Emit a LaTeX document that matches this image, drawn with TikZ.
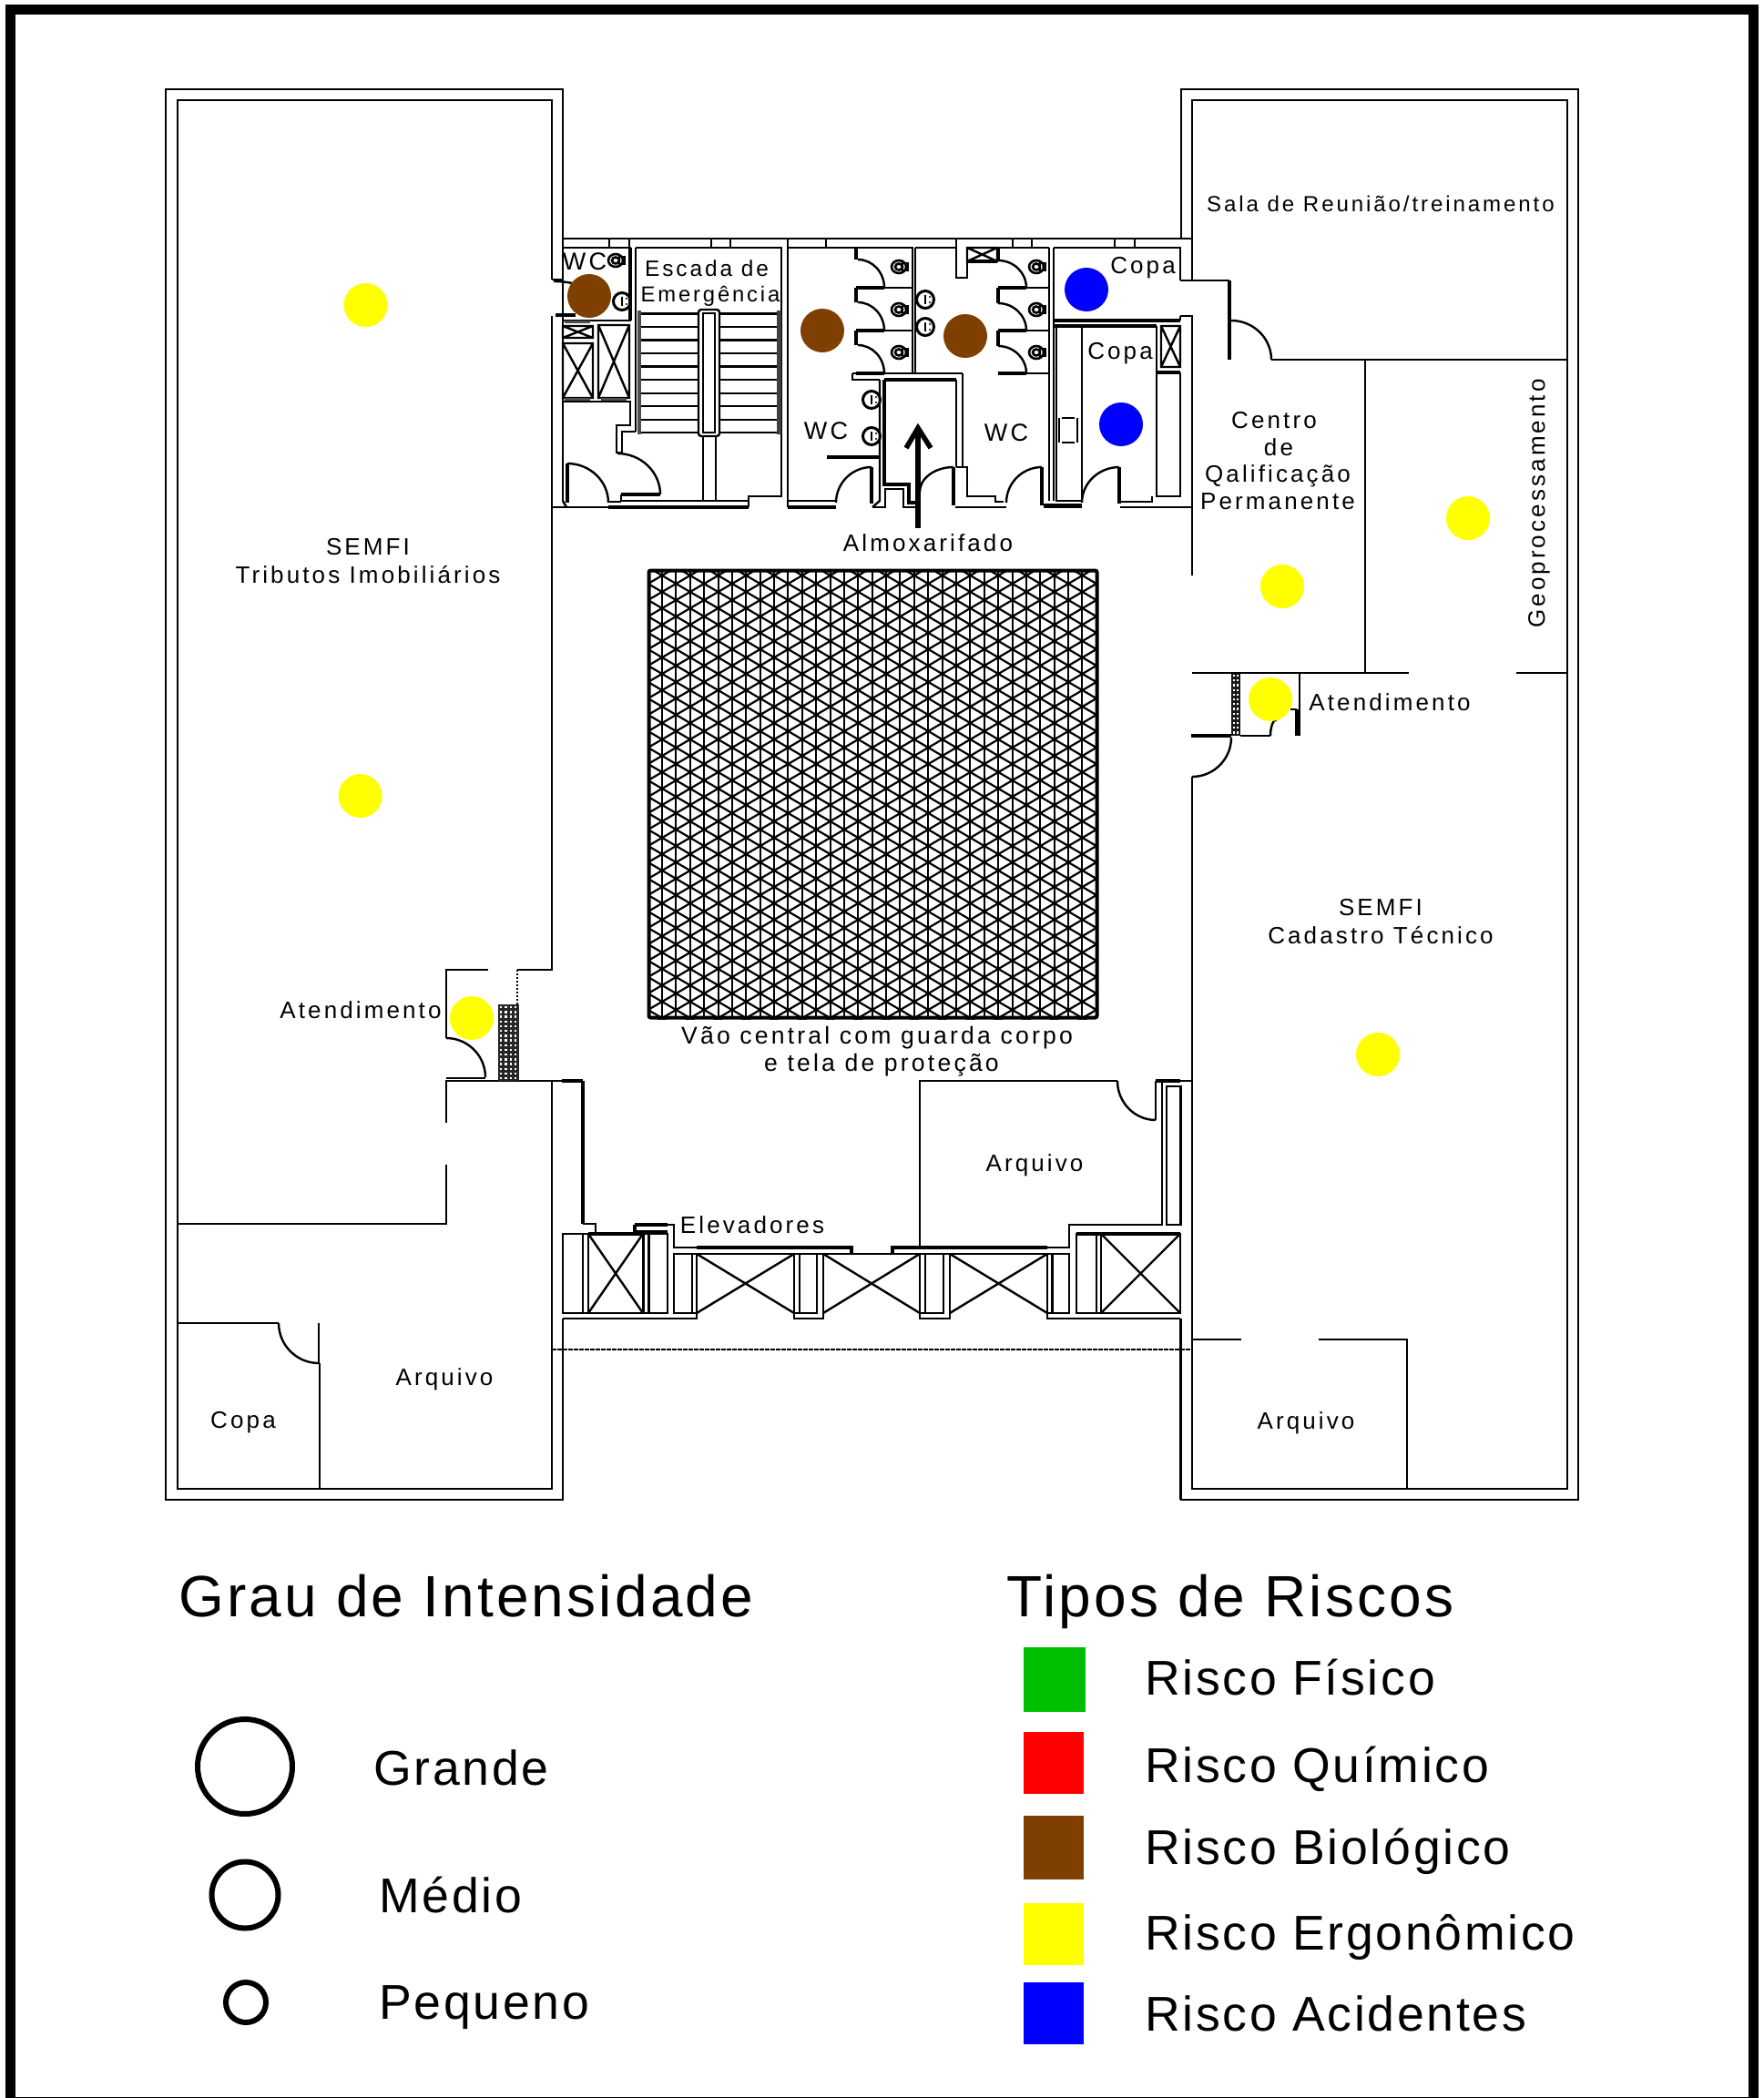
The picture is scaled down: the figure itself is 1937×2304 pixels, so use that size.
\documentclass[tikz,border=0pt]{standalone}
\usepackage{fontspec}
\setmainfont{Liberation Sans}[LetterSpace=12]
\newfontfamily\legendfont{Liberation Sans}[LetterSpace=5]
\newcommand{\fsz}[1]{\fontsize{#1}{#1}\selectfont}
\tikzset{
  wall/.style={draw=black,line width=2.4pt,line join=miter,fill=none},
  thick wall/.style={draw=black,line width=3.5pt},
  room label/.style={font=\fsz{26},inner sep=0pt,text=black,align=center},
  legend head/.style={font=\legendfont\fsz{64},inner sep=0pt,anchor=base west},
  legend text/.style={font=\legendfont\fsz{53.6},inner sep=0pt,anchor=base west},
  marker/.style={circle,minimum size=48pt,inner sep=0pt,draw=none},
  ring/.style={draw=black,line width=6pt,fill=none}
}
\definecolor{rbrown}{RGB}{127,63,0}
\definecolor{rgreen}{RGB}{0,191,0}
\definecolor{ryellow}{RGB}{255,255,0}
\definecolor{rblue}{RGB}{0,0,255}
\definecolor{rred}{RGB}{255,0,0}
\newcommand{\qarc}[4]{\draw[wall] (#1,#2) .. controls ({#1+0.55*(#3-#1)},#2) and (#3,{#4-0.55*(#4-#2)}) .. (#3,#4);}
\newcommand{\xbox}[4]{\draw[wall] (#1,#2) rectangle (#3,#4) (#1,#2) -- (#3,#4) (#1,#4) -- (#3,#2);}
\newcommand{\toilet}[2]{\draw[line width=2.6pt] (#1,#2) ellipse (8pt and 7pt) (#1,#2) ellipse (4pt and 3.5pt);\draw[line width=2.4pt] (#1+4,#2-4) rectangle (#1+10,#2+4);}
\newcommand{\sink}[2]{\draw[line width=3pt] (#1,#2) circle (9.5pt);\draw[line width=1.5pt] (#1,#2-5) -- (#1,#2+5);\fill (#1+5,#2-3) circle (1.2pt) (#1+5,#2+3) circle (1.2pt);}
\begin{document}
\begin{tikzpicture}[x=1pt,y=-1pt]
\useasboundingbox (0,0) rectangle (1937,2304);
\fill[white] (0,0) rectangle (1937,2304);
% page frame
\draw[black,line width=11pt] (11.5,10.5) rectangle (1925.5,2308);
% ---------- left building
\draw[wall] (618,307) -- (618,98) -- (182,98) -- (182,1647) -- (618,1647) -- (618,1448);
\draw[wall] (606,307) -- (606,110) -- (195,110) -- (195,1635) -- (606,1635) -- (606,1187);
\draw[wall] (606,307) -- (618,307);
\draw[wall] (606,347) -- (606,1065) -- (568,1065);
\draw[wall] (536,1065) -- (490,1065) -- (490,1140);
\qarc{490}{1140}{533}{1183}
\draw[wall] (490,1184) -- (533,1184);
\draw[wall] (490,1233) -- (490,1187) -- (617,1187);
\draw[thick wall] (617,1187) -- (640,1187);
\draw[wall] (490,1279) -- (490,1344) -- (195,1344);
\draw[wall] (195,1453) -- (306,1453);
\qarc{350}{1497}{306}{1453}
\draw[wall] (350,1453) -- (350,1497);
\draw[wall] (351,1497) -- (351,1635);
% hatch columns
\fill[black!85] (547,1103) rectangle (570,1187);
\foreach \i in {0,...,3}\foreach \j in {0,...,15}{\fill[white] (549+\i*5.3,1105+\j*5.2) rectangle ++(2.4,2.4);}
\draw[line width=2pt,dotted] (568,1065) -- (568,1103);
\fill[black!90] (1352,739) rectangle (1362,808);
\foreach \i in {0,1}\foreach \j in {0,...,12}{\fill[white] (1353.6+\i*4.3,741+\j*5.2) rectangle ++(2,2.2);}
% ---------- right building
\draw[wall] (1297,262) -- (1297,98) -- (1733,98) -- (1733,1647) -- (1297,1647) -- (1297,1448);
\draw[wall] (1309,308) -- (1309,110) -- (1721,110) -- (1721,1635) -- (1309,1635) -- (1309,853);
\qarc{1309}{853}{1352}{810}
\draw[thick wall] (1308,808) -- (1352,808);
\draw[wall] (1296,308) -- (1350,308);
\draw[thick wall] (1350,308) -- (1350,395);
\qarc{1352}{352}{1396}{395}
\draw[wall] (1396,395) -- (1721,395);
\draw[wall] (1296,347) -- (1309,347) -- (1309,632);
\draw[wall] (1499,395) -- (1499,739);
\draw[wall] (1309,739) -- (1547,739);
\draw[wall] (1665,739) -- (1721,739);
\draw[wall] (1427,739) -- (1427,808);
\draw[wall] (1362,808) -- (1395,808);
\qarc{1402}{790}{1395}{808}
\draw[wall] (1417,779) -- (1424,779);
\draw[thick wall] (1424,779) -- (1424,808);
\draw[wall] (1309,1471) -- (1363,1471);
\draw[wall] (1448,1471) -- (1545,1471) -- (1545,1635);
% ---------- service core top
\draw[wall] (618,262) -- (1309,262);
\foreach \x in {669,691,781,802,865,907,1050,1112,1133,1224,1246}{\draw[wall] (\x,262) -- (\x,272);}
\draw[wall] (618,272) rectangle (692,352);
\draw[thick wall] (692,272) -- (692,352);
\draw[wall] (618,352) -- (618,550);
\draw[thick wall] (610,346) -- (632,346);
\qarc{608}{309}{640}{318}
\toilet{676}{286}
\sink{683}{331}
\xbox{618}{358}{651}{371}
\xbox{618}{377}{651}{437}
\xbox{657}{357}{691}{437}
\draw[line width=3pt,black!70] (620,353) -- (648,353);
\draw[line width=3pt,black!70] (620,438) -- (648,438) (660,438) -- (688,438);
\draw[wall] (618,441) -- (692,441) -- (692,467) -- (677,467) -- (677,497) -- (683,497) -- (683,474) -- (698,474);
\draw[wall] (698,272) -- (858,272) -- (858,545) -- (822,545) -- (822,557);
\draw[wall] (698,272) -- (698,474);
\qarc{678}{498}{725}{543}
\draw[thick wall] (682,543) -- (725,543);
\draw[wall] (682,543) -- (682,550) -- (822,550);
\draw[thick wall] (668,557) -- (822,557);
\draw[wall] (668,551) -- (682,551);
\draw[thick wall] (623,509) -- (623,552);
\qarc{623}{509}{668}{552}
\draw[wall] (618,550) -- (622,557);
\draw[wall] (606,557) -- (822,557);
% stairs
\foreach \y in {344.3,359,373.3,387.7,402.3,416.7,431.7,446,460.7,475}{\draw[wall] (702,\y) -- (858,\y);}
\fill[black!70] (700,341) rectangle (704,477);
\fill[black!75] (853,341) rectangle (858,477);
\draw[wall,fill=white,rounded corners=3pt] (767,340) rectangle (790,479);
\draw[wall,fill=white] (772,344) rectangle (785,475);
\draw[wall] (771.7,479) -- (771.7,550) (786,479) -- (786,550);
% WC left (stalls)
\draw[wall] (865,272) -- (865,557);
\draw[wall] (865,272) -- (1002,272) -- (1002,410) (1005,272) -- (1050,272);
\draw[wall] (1005,272) -- (1005,410);
\draw[wall] (865,550) -- (918,550);
\draw[thick wall] (865,557) -- (918,557);
\foreach \a/\b/\c in {272/285/316,316/332/363,363/379/410}{
  \draw[thick wall] (940,\a) -- (940,\b);
  \qarc{942}{\b}{971}{\c}
  \draw[thick wall] (940,\c) -- (971,\c);
  \draw[wall] (971,\c) -- (1002,\c);
}
\toilet{987}{293}\toilet{987}{340}\toilet{987}{387}
\draw[wall] (936,410) -- (1057,410) (936,410) -- (936,417) -- (966,417);
\draw[wall] (966,417) -- (966,550) -- (958,557);
\draw[thick wall] (971,417) -- (1050,417);
\draw[thick wall] (971,417) -- (971,532) -- (998,532) -- (998,552) -- (1008,552);
\draw[wall] (958,557) -- (972,557) -- (972,537) -- (992,537) -- (992,557) -- (1008,557);
\sink{957}{439}\sink{957}{479}
\draw[thick wall] (908,502) -- (965,502);
\draw[thick wall] (957,513) -- (957,553);
\qarc{957}{513}{918}{552}
% WC right
\draw[wall] (1050,272) -- (1050,305) -- (1062,305) -- (1062,272) -- (1152,272);
\xbox{1062}{272}{1095}{287}
\draw[thick wall] (1062,287) -- (1095,287);
\draw[thick wall] (1096,272) -- (1096,286);
\foreach \b/\c in {286/316,333/363,380/410}{
  \qarc{1096}{\b}{1127}{\c}
  \draw[thick wall] (1096,\c) -- (1127,\c);
  \draw[wall] (1127,\c) -- (1152,\c);
}
\draw[thick wall] (1096,316) -- (1096,333) (1096,363) -- (1096,380);
\toilet{1138}{293}\toilet{1138}{340}\toilet{1138}{387}
\sink{1016}{329}\sink{1016}{359}
\draw[wall] (1050,417) -- (1050,513) (1057,410) -- (1057,514);
\draw[thick wall] (1047,513) -- (1047,555);
\qarc{1047}{513}{1010}{540}
\draw[wall] (1050,513) -- (1062,513) -- (1062,545) -- (1093,545) -- (1093,551) -- (1102,551);
\draw[wall] (1049,557) -- (1105,557);
\draw[thick wall] (1144,513) -- (1144,555);
\qarc{1144}{513}{1105}{552}
\draw[wall] (1152,272) -- (1152,550);
\draw[wall] (1157,272) -- (1157,550);
\draw[wall] (1146,557) -- (1188,557);
\draw[thick wall] (1146,555) -- (1188,555);
% Copas
\draw[wall] (1157,272) -- (1296,272) -- (1296,308);
\draw[thick wall] (1157,352) -- (1296,352);
\draw[wall] (1296,347) -- (1296,352);
\draw[thick wall] (1157,358) -- (1270,358);
\draw[wall] (1160,358) -- (1160,550) -- (1188,550);
\draw[wall] (1188,358) -- (1188,552);
\draw[wall] (1270,358) -- (1270,545) -- (1296,545) -- (1296,409);
\xbox{1275}{358}{1296}{403}
\draw[thick wall] (1270,409) -- (1296,409);
\draw[wall] (1163,459) -- (1163,486) (1183,459) -- (1183,486) (1166,459) -- (1180,459) (1166,486) -- (1180,486);
\draw[thick wall] (1229,513) -- (1229,553);
\qarc{1229}{513}{1188}{552}
\draw[wall] (1230,551) -- (1265,551) -- (1265,545);
\draw[wall] (1230,557) -- (1309,557);
\draw[wall] (1309,262) -- (1309,308);
% arrow
\draw[black,line width=5.5pt] (1008,580) -- (1008,470);
\draw[black,line width=5.5pt,line join=miter] (995,492) -- (1008,470) -- (1022,492);
% central void
\begin{scope}
\clip (711,625) rectangle (1206,1119);
\foreach \k in {-20,...,46}{
  \draw[line width=2.2pt] (711,{632+\k*18-16*0.585}) -- (1206,{632+\k*18+479*0.585});
  \draw[line width=2.2pt] (711,{632+\k*18+16*0.585}) -- (1206,{632+\k*18-479*0.585});
}
\foreach \i in {0,...,31}{\draw[line width=2pt] ({727+\i*15.38},625) -- ({727+\i*15.38},1119);}
\end{scope}
\draw[line width=4pt,rounded corners=2pt] (712.5,626.5) rectangle (1204.5,1117.5);
% ---------- elevators
\draw[line width=3.4pt] (640,1187) -- (640,1344);
\draw[wall] (640,1344) -- (654,1344) -- (654,1353);
\draw[thick wall] (697,1345) -- (733,1345) (697,1345) -- (697,1353) (697,1353) -- (733,1353);
\draw[wall] (733,1345) -- (740,1345) -- (740,1370) -- (765,1370);
\draw[thick wall] (765,1370) -- (935,1370) -- (935,1377);
\draw[thick wall] (980,1377) -- (980,1370) -- (1150,1370);
\draw[wall] (1150,1370) -- (1174,1370) -- (1174,1345) -- (1276,1345) -- (1276,1187);
\draw[wall] (935,1377) -- (980,1377) (740,1377) -- (935,1377) (980,1377) -- (1174,1377);
\draw[wall] (618,1355) rectangle (733,1442);
\draw[thick wall] (646,1355) -- (706,1355);
\draw[wall] (640,1355) -- (640,1442) (646,1355) -- (646,1442) (706.5,1355) -- (706.5,1442) (712.5,1355) -- (712.5,1442);
\draw[wall] (646,1355) -- (706,1442) (646,1442) -- (706,1355);
\draw[wall] (740,1377) rectangle (765,1442) (760,1377) -- (760,1442);
\draw[wall] (765,1377) -- (872,1442) (765,1442) -- (872,1377);
\draw[wall] (872,1377) rectangle (897,1442) (878,1377) -- (878,1442);
\draw[wall] (904,1377) -- (1010,1442) (904,1442) -- (1010,1377);
\draw[wall] (1010,1377) rectangle (1036,1442) (1016,1377) -- (1016,1442);
\draw[wall] (1043,1377) -- (1150,1442) (1043,1442) -- (1150,1377);
\draw[wall] (1150,1377) rectangle (1174,1442) (1155.5,1377) -- (1155.5,1442);
\draw[wall] (1182,1355) rectangle (1296,1442);
\draw[thick wall] (1182,1355) -- (1296,1355);
\draw[wall] (1204,1355) -- (1204,1442) (1209,1355) -- (1209,1442);
\draw[wall] (1209,1355) -- (1296,1442) (1209,1442) -- (1296,1355);
\draw[wall] (618,1448) -- (765,1448) -- (765,1442);
\draw[wall] (872,1442) -- (872,1448) -- (904,1448) -- (904,1377);
\draw[wall] (1010,1442) -- (1010,1448) -- (1043,1448) -- (1043,1377);
\draw[wall] (1150,1442) -- (1150,1448) -- (1296,1448);
\draw[wall] (1296,1448) -- (1296,1647);
\draw[line width=1.6pt,dash pattern=on 5pt off 1pt] (606,1482) -- (1309,1482);
% archive room
\draw[wall] (1010,1370) -- (1010,1187) -- (1227,1187);
\qarc{1269}{1230}{1227}{1187}
\draw[wall] (1269,1187) -- (1269,1230);
\draw[thick wall] (1269,1187) -- (1296,1187);
\draw[wall] (1296,1187) -- (1309,1187);
\draw[wall] (1281,1193) rectangle (1296.5,1345);
% ---------- risk markers
\node[marker,fill=ryellow] (y1) at (401.5,335) {};
\node[marker,fill=ryellow] (y2) at (395.6,874) {};
\node[marker,fill=ryellow] (y3) at (518,1118) {};
\node[marker,fill=ryellow] (y4) at (1612,569) {};
\node[marker,fill=ryellow] (y5) at (1408,644) {};
\node[marker,fill=ryellow] (y6) at (1395,768) {};
\node[marker,fill=ryellow] (y7) at (1513,1158) {};
\node[marker,fill=rbrown] (b1) at (647,325) {};
\node[marker,fill=rbrown] (b2) at (903,363) {};
\node[marker,fill=rbrown] (b3) at (1060,369) {};
\node[marker,fill=rblue] (a1) at (1193,318) {};
\node[marker,fill=rblue] (a2) at (1231,466) {};
% ---------- labels
\node[room label,font=\fsz{27}] (t1) at (642,287) {WC};
\node[room label,font=\fsz{24.4}] (t2) at (776,295) {Escada de};
\node[room label,font=\fsz{23.8}] (t3) at (780,325) {Emergência};
\node[room label,font=\fsz{27}] (t4) at (907,473) {WC};
\node[room label,font=\fsz{27}] (t5) at (1105,475) {WC};
\node[room label,font=\fsz{26}] (t6) at (1255,294) {Copa};
\node[room label,font=\fsz{26}] (t7) at (1230,388) {Copa};
\node[room label,font=\fsz{24.1}] (t8) at (1516,224) {Sala de Reunião/treinamento};
\node[room label] (t9) at (1399,462) {Centro};
\node[room label] (t10) at (1404,491) {de};
\node[room label] (t11) at (1403,523) {Qalificação};
\node[room label] (t12) at (1403,551) {Permanente};
\node[room label,rotate=90] (t13) at (1690,553) {Geoprocessamento};
\node[room label] (t14) at (1526,771) {Atendimento};
\node[room label] (t15) at (404,601) {SEMFI};
\node[room label] (t16) at (404,631) {Tributos Imobiliários};
\node[room label] (t17) at (1019,596) {Almoxarifado};
\node[room label,font=\fsz{26.6}] (t18) at (963,1140) {Vão central com guarda corpo};
\node[room label,font=\fsz{26.6}] (t19) at (968,1170) {e tela de proteção};
\node[room label] (t20) at (396,1109) {Atendimento};
\node[room label] (t21) at (1516,997) {SEMFI};
\node[room label] (t22) at (1516,1027) {Cadastro Técnico};
\node[room label] (t23) at (1136,1280) {Arquivo};
\node[room label] (t24) at (826,1345) {Elevadores};
\node[room label] (t25) at (488,1515) {Arquivo};
\node[room label] (t26) at (267,1562) {Copa};
\node[room label] (t27) at (1434,1563) {Arquivo};
% ---------- legends
\node[legend head] (h1) at (196,1775) {Grau de Intensidade};
\node[legend head] (h2) at (1105,1775) {Tipos de Riscos};
\node[circle,ring,minimum size=104pt,inner sep=0pt] (c1) at (269,1940) {};
\node[circle,ring,minimum size=73pt,inner sep=0pt] (c2) at (269,2081) {};
\node[circle,ring,minimum size=44pt,inner sep=0pt] (c3) at (270,2199) {};
\node[legend text] (g1) at (410,1960) {Grande};
\node[legend text] (g2) at (416,2100) {Médio};
\node[legend text] (g3) at (416,2217) {Pequeno};
\fill[rgreen] (1124,1809) rectangle (1192,1880);
\fill[rred] (1124,1902) rectangle (1190,1970);
\fill[rbrown] (1124,1994) rectangle (1190,2064);
\fill[ryellow] (1124,2090) rectangle (1190,2158);
\fill[rblue] (1124,2177) rectangle (1190,2245);
\node[legend text] (r1) at (1257,1861) {Risco Físico};
\node[legend text] (r2) at (1257,1957) {Risco Químico};
\node[legend text] (r3) at (1257,2047) {Risco Biológico};
\node[legend text] (r4) at (1257,2141) {Risco Ergonômico};
\node[legend text] (r5) at (1257,2230) {Risco Acidentes};
\end{tikzpicture}
\end{document}
